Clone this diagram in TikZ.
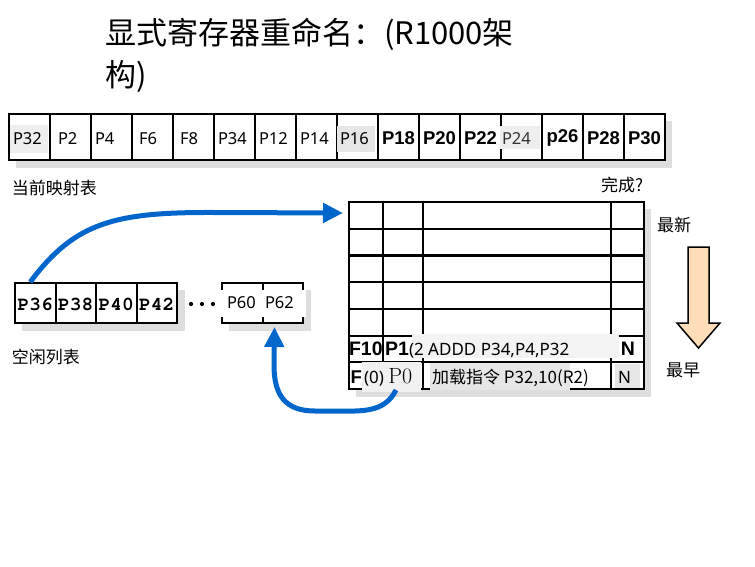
\documentclass[tikz,border=0pt]{standalone}
\usepackage{fontspec}
\newfontfamily\cjk{Noto Sans CJK SC}
\newfontfamily\nsans{Noto Sans}
\newfontfamily\arial{Liberation Sans}
\newfontfamily\cour{texgyrecursor-bold.otf}
\usetikzlibrary{arrows.meta,calc}
\definecolor{blu}{HTML}{0066CC}
\definecolor{shd}{HTML}{DEDEDE}
\definecolor{peach}{HTML}{FFDDB8}
\definecolor{bgA}{HTML}{EEEEEE}
\definecolor{bgB}{HTML}{E6E6E6}
\begin{document}
\begin{tikzpicture}[x=1pt,y=-1pt,
  every node/.style={inner sep=0pt,outer sep=0pt},
  mcell/.style={draw,fill=white,line width=2pt,minimum width=41pt,minimum height=46pt,anchor=north west},
  fcell/.style={draw,fill=white,line width=2pt,minimum width=40.5pt,minimum height=40pt,anchor=north west},
  rlab/.style={font=\nsans\fontsize{16.5}{18}\selectfont,anchor=west},
  tlab/.style={font=\nsans\fontsize{17}{18}\selectfont,anchor=base west},
  blab/.style={font=\arial\bfseries\fontsize{18.5}{20}\selectfont},
  mlab/.style={font=\cour\fontsize{19.5}{20}\selectfont},
  cjklab/.style={font=\cjk\fontsize{17}{20}\selectfont,anchor=west},
  titlab/.style={font=\cjk\fontsize{31}{40}\selectfont,anchor=base west},
  tline/.style={line width=2.2pt},
  bluearrow/.style={draw=blu,line width=5pt,-{Triangle[length=20pt,width=19pt]}}
]
\useasboundingbox (0,0) rectangle (755,566);

% title
\node[titlab] (t1) at (105,44) {显式寄存器重命名：(R1000架};
\node[titlab] (t2) at (105,86) {构)};

% ---------- current map ----------
\fill[shd] (16,121) rectangle (672,168);
\foreach \i in {0,...,15} \node[mcell] (m\i) at (9+41*\i,114) {};
\fill[bgA] (10,125) rectangle (48,153);
\fill[bgB] (337,126) rectangle (375,152);
\fill[bgA] (500,126) rectangle (540,149);
\foreach \x/\t in {13/P32,58/P2,95/P4,139/F6,180/F8,218/P34,259/P12,300/P14,340/P16}
  \node[rlab] at (\x,138.5) {\t};
\node[rlab,text=black!80] (p24) at (502,139) {P24};
\foreach \i/\t in {9/P18,10/P20,11/P22,13/p26,14/P28,15/P30}
  \node[blab] at ($(m\i.center)+(0,1)$) {\t};
\node[cjklab] (lmap) at (12,188) {当前映射表};
\node[cjklab] (ldone) at (601,185) {完成?};

% ---------- free list ----------
\fill[shd] (22,290) rectangle (185,331);
\fill[shd] (229,290) rectangle (311,331);
\foreach \i in {1,2,3,4}
  \node[fcell] (f\i) at (15+40.5*\i-40.5,283) {};
\foreach \i/\t in {1/P36,2/P38,3/P40,4/P42}
  \node[mlab] at ($(f\i.center)+(0,1)$) {\t};
\foreach \x in {191,202,213} \fill (\x,304) circle (2.1);
\node[draw,fill=white,line width=2pt,minimum width=81pt,minimum height=40pt,anchor=north west] (pp) at (222,283) {};
\draw[line width=2pt] (pp.north) -- (pp.south);
\fill[white] (219,290) rectangle (306,317);
\node[rlab] (p60) at (227,303) {P60};
\node[rlab] (p62) at (265,303) {P62};
\node[cjklab] (lfree) at (12,357) {空闲列表};

% ---------- reorder table ----------
\fill[shd] (356,209) rectangle (651,397);
\node[draw,fill=white,tline,minimum width=295pt,minimum height=187pt,anchor=north west] (rob) at (349,202) {};
\foreach \y in {228.7,255.4,282.1,308.9,335.6,362.3}
  \draw[tline] (349,\y) -- (644,\y);
\foreach \x in {383,423,611}
  \draw[tline] (\x,202) -- (\x,389);
% row 6
\node[blab,anchor=west,font=\arial\bfseries\fontsize{19.5}{20}\selectfont] (c61) at (349,349) {F10};
\node[blab,anchor=west,font=\arial\bfseries\fontsize{19.5}{20}\selectfont] (c62) at (385,349) {P1};
\fill[bgA!70] (412,334) rectangle (619,358);
\node[tlab] (c63) at (409,355) {(2 ADDD P34,P4,P32};
\node[blab,font=\arial\bfseries\fontsize{19.5}{20}\selectfont] (c64) at (628,349) {N};
% row 7
\node[blab,anchor=west] (c71) at (350.5,377) {F};
\fill[bgA!80] (362,362) rectangle (421,392);
\node[tlab] (c72) at (364,383) {(0) {\rmfamily\fontsize{22}{22}\selectfont P0}};
\fill[bgB] (430,363) rectangle (570,390);
\node[font=\cjk\fontsize{17}{20}\selectfont,anchor=base west] (c73) at (432,383) {加载指令 P32,10(R2)};
\fill[bgB] (615,364) rectangle (640,388);
\node[tlab] (c74) at (618,383) {N};

% right side
\node[cjklab] (lnew) at (657,225) {最新};
\node[cjklab] (lold) at (666,370) {最早};
\draw[line width=1.5pt,fill=peach,line join=miter]
  (688,247) -- (709,247) -- (709,323) -- (720,323) -- (698.5,348) -- (677,323) -- (688,323) -- cycle;

% ---------- blue connectors ----------
\coordinate (a1s) at ($(f1.north)+(-5,-1)$);
\coordinate (a1e) at ($(rob.north west)+(-6,11)$);
\draw[bluearrow] (a1s) .. controls (75,222) and (115,212) .. (215,212.5) -- (a1e);
\coordinate (a2s) at ($(rob.south west)+(47,1)$);
\coordinate (a2e) at ($(pp.south)+(12,4)$);
\draw[bluearrow] (a2s) .. controls (384,414) and (360,411) .. (330,411) -- (315,411)
  .. controls (285,411) and (274,395) .. (274,365) -- (a2e);
\end{tikzpicture}
\end{document}
